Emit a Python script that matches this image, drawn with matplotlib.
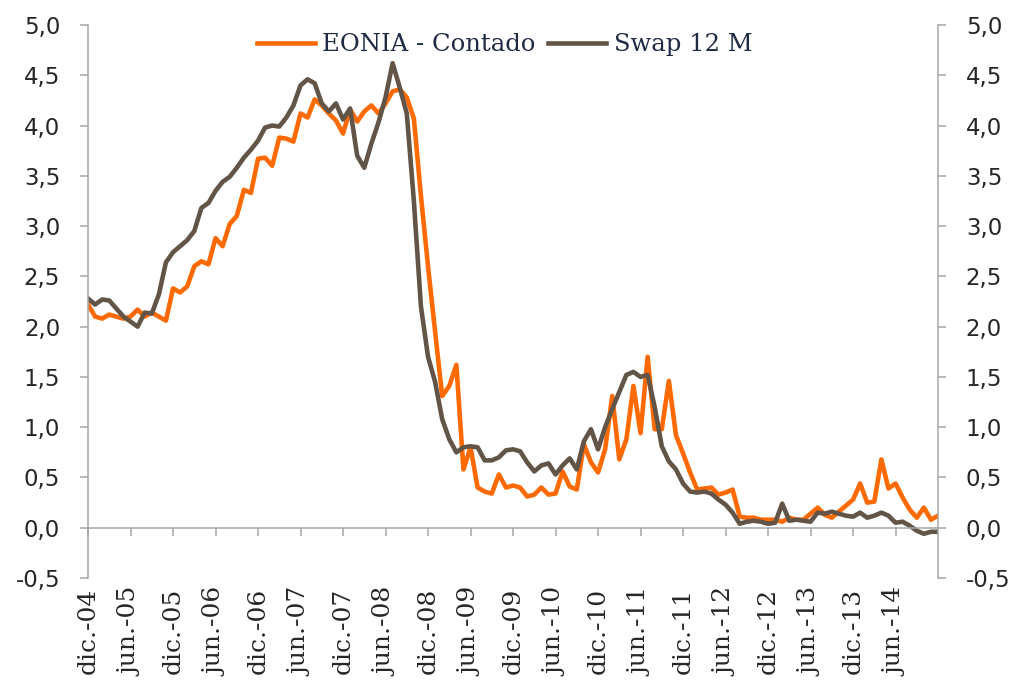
import matplotlib
matplotlib.use("Agg")
import matplotlib.pyplot as plt
import numpy as np
from matplotlib.ticker import FuncFormatter

# monthly values, dic.-04 .. dic.-14
eonia = [
    2.22, 2.10, 2.08, 2.12, 2.10, 2.08, 2.10, 2.17, 2.10, 2.14,
    2.10, 2.06, 2.38, 2.34, 2.40, 2.60, 2.65, 2.62, 2.88, 2.80,
    3.02, 3.10, 3.36, 3.33, 3.67, 3.68, 3.60, 3.88, 3.87, 3.84,
    4.12, 4.08, 4.26, 4.20, 4.12, 4.05, 3.92, 4.16, 4.04, 4.14,
    4.20, 4.12, 4.22, 4.34, 4.36, 4.28, 4.07, 3.30, 2.60, 1.95,
    1.31, 1.41, 1.62, 0.58, 0.80, 0.40, 0.36, 0.34, 0.53, 0.40,
    0.42, 0.40, 0.31, 0.33, 0.40, 0.33, 0.34, 0.56, 0.41, 0.38,
    0.83, 0.65, 0.55, 0.78, 1.31, 0.68, 0.88, 1.41, 0.94, 1.70,
    0.98, 0.98, 1.46, 0.92, 0.74, 0.55, 0.38, 0.39, 0.40, 0.33,
    0.35, 0.38, 0.11, 0.10, 0.10, 0.08, 0.08, 0.08, 0.06, 0.10,
    0.08, 0.08, 0.14, 0.20, 0.13, 0.10, 0.16, 0.22, 0.28, 0.44,
    0.25, 0.26, 0.68, 0.39, 0.44, 0.30, 0.18, 0.10, 0.20, 0.08,
    0.12,
]
swap = [
    2.28, 2.22, 2.27, 2.26, 2.18, 2.10, 2.05, 2.00, 2.14, 2.13,
    2.32, 2.64, 2.74, 2.80, 2.86, 2.95, 3.18, 3.23, 3.35, 3.44,
    3.49, 3.58, 3.68, 3.76, 3.85, 3.98, 4.00, 3.99, 4.08, 4.20,
    4.40, 4.46, 4.42, 4.22, 4.14, 4.22, 4.06, 4.17, 3.70, 3.58,
    3.82, 4.03, 4.28, 4.62, 4.38, 4.12, 3.25, 2.20, 1.70, 1.45,
    1.08, 0.88, 0.75, 0.80, 0.81, 0.80, 0.67, 0.67, 0.70, 0.77,
    0.78, 0.76, 0.65, 0.56, 0.62, 0.64, 0.53, 0.62, 0.69, 0.58,
    0.86, 0.98, 0.78, 1.00, 1.18, 1.35, 1.52, 1.55, 1.50, 1.52,
    1.20, 0.81, 0.66, 0.58, 0.44, 0.36, 0.35, 0.36, 0.34, 0.28,
    0.23, 0.15, 0.04, 0.06, 0.07, 0.06, 0.04, 0.05, 0.24, 0.07,
    0.08, 0.07, 0.06, 0.15, 0.14, 0.16, 0.14, 0.12, 0.11, 0.15,
    0.10, 0.12, 0.15, 0.12, 0.05, 0.06, 0.02, -0.03, -0.06, -0.04,
    -0.04,
]
x_labels = [
    "dic.-04", "jun.-05", "dic.-05", "jun.-06", "dic.-06", "jun.-07",
    "dic.-07", "jun.-08", "dic.-08", "jun.-09", "dic.-09", "jun.-10",
    "dic.-10", "jun.-11", "dic.-11", "jun.-12", "dic.-12", "jun.-13",
    "dic.-13", "jun.-14",
]
y_ticks = [-0.5, 0.0, 0.5, 1.0, 1.5, 2.0, 2.5, 3.0, 3.5, 4.0, 4.5, 5.0]

ORANGE = "#FF6A00"
TAUPE = "#625548"
GREY = "#A6A6A6"
TEXT = "#262626"

fig = plt.figure(figsize=(10.14, 6.92), dpi=100)
ax = fig.add_axes([0.0868, 0.1647, 0.8383, 0.7992])

months = np.arange(len(eonia))
ax.plot(months, eonia, color=ORANGE, lw=3.3, label="EONIA - Contado")
ax.plot(months, swap, color=TAUPE, lw=3.3, label="Swap 12 M")

ax.set_xlim(0, len(eonia) - 1)
ax.set_ylim(-0.5, 5.0)
fmt = FuncFormatter(lambda v, p: f"{v:.1f}".replace(".", ","))
ax.set_yticks(y_ticks)
ax.yaxis.set_major_formatter(fmt)
ax.tick_params(axis="y", direction="out", length=6, width=1.1, color=GREY,
               labelsize=16.5, labelcolor=TEXT, pad=14)

# category axis sits on zero, labels stay at the bottom
tick_pos = months[::6][:len(x_labels)]
ax.spines["top"].set_visible(False)
ax.spines["right"].set_visible(False)
ax.spines["left"].set_color(GREY)
ax.spines["left"].set_linewidth(1.1)
ax.spines["bottom"].set_position(("data", 0))
ax.spines["bottom"].set_color(GREY)
ax.spines["bottom"].set_linewidth(1.1)
ax.set_xticks(tick_pos)
ax.tick_params(axis="x", direction="out", length=6, width=1.1, color=GREY,
               labelbottom=False)

sec = ax.secondary_xaxis("bottom")
sec.set_xticks(tick_pos, labels=x_labels)
sec.tick_params(length=0, pad=7, labelsize=18, labelcolor=TEXT, labelrotation=90)
for lab in sec.get_xticklabels():
    lab.set_fontfamily("DejaVu Serif")
sec.spines["bottom"].set_visible(False)

ax2 = ax.twinx()
ax2.set_ylim(-0.5, 5.0)
ax2.set_yticks(y_ticks)
ax2.yaxis.set_major_formatter(fmt)
ax2.tick_params(axis="y", direction="out", length=6, width=1.1, color=GREY,
                labelsize=16.5, labelcolor=TEXT, pad=14)
for side in ["top", "bottom", "left"]:
    ax2.spines[side].set_visible(False)
ax2.spines["right"].set_color(GREY)
ax2.spines["right"].set_linewidth(1.1)

leg = ax.legend(loc="center", bbox_to_anchor=(0.49, 0.964), ncol=2, frameon=False,
                handlelength=2.4, handletextpad=0.3, columnspacing=0.5,
                prop={"family": "DejaVu Serif", "size": 17.5})
for t in leg.get_texts():
    t.set_color("#1F2A44")

fig.savefig("out.png", dpi=100)
